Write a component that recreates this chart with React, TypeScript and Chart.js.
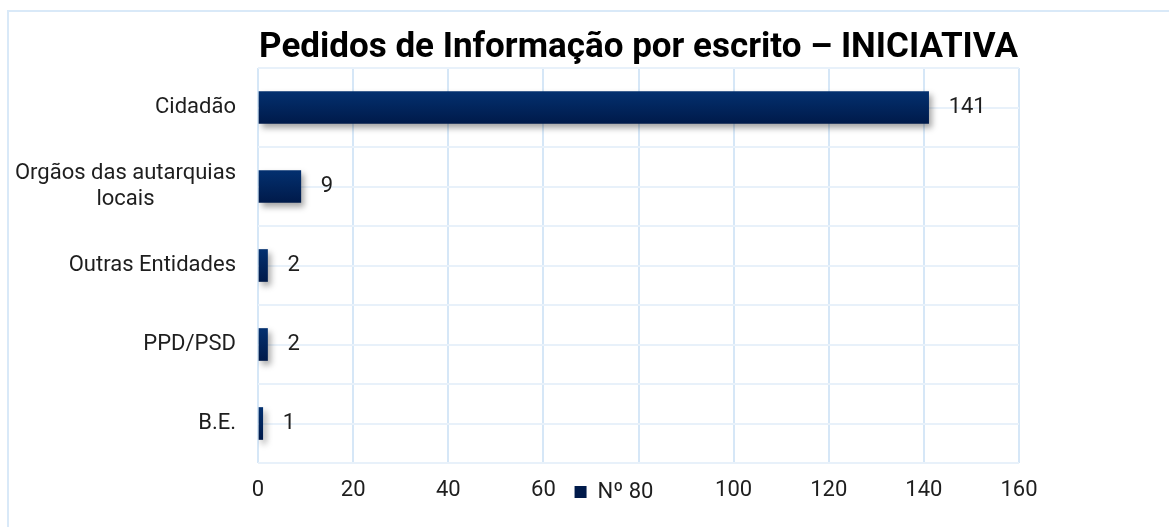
import React, { useEffect, useRef } from 'react';
import { Chart, registerables } from 'chart.js';

Chart.register(...registerables);

const titleText = 'Pedidos de Informação por escrito – INICIATIVA';
const categories: string[][] = [
  ['Cidadão'],
  ['Orgãos das autarquias', 'locais'],
  ['Outras Entidades'],
  ['PPD/PSD'],
  ['B.E.'],
];
const values: number[] = [141, 9, 2, 2, 1];
const seriesLabel = 'Nº 80';
const xMin = 0;
const xMax = 160;
const xStep = 20;

const FONT = 'Roboto';
const TEXT = '#1e1e1e';

const shadowPlugin = {
  id: 'barShadow',
  beforeDatasetDraw(chart: any) {
    const c = chart.ctx;
    c.save();
    c.shadowColor = 'rgba(0,0,0,0.35)';
    c.shadowBlur = 6;
    c.shadowOffsetX = 3;
    c.shadowOffsetY = 4;
  },
  afterDatasetDraw(chart: any) {
    chart.ctx.restore();
  },
};

// let the x tick labels share the row with the legend (labels are clipped to the scale box)
const xLabelRoomPlugin = {
  id: 'xLabelRoom',
  afterLayout(chart: any) {
    if (chart.scales.x) chart.scales.x.bottom = chart.height;
  },
};

const valueLabelPlugin = {
  id: 'valueLabels',
  afterDatasetsDraw(chart: any) {
    const c = chart.ctx;
    const meta = chart.getDatasetMeta(0);
    const data = chart.data.datasets[0].data;
    c.save();
    c.font = `22px ${FONT}`;
    c.fillStyle = TEXT;
    c.textAlign = 'left';
    c.textBaseline = 'middle';
    meta.data.forEach((bar: any, i: number) => {
      c.fillText(String(data[i]), bar.x + 20, bar.y);
    });
    c.restore();
  },
};

const yLabelPlugin = {
  id: 'yLabels',
  afterDraw(chart: any) {
    const c = chart.ctx;
    const scale = chart.scales.y;
    const labels = chart.data.labels as string[][];
    const lh = 26.4;
    const right = chart.chartArea.left - 22;
    c.save();
    c.font = `22px ${FONT}`;
    c.fillStyle = TEXT;
    c.textAlign = 'center';
    c.textBaseline = 'middle';
    labels.forEach((lines, i) => {
      const y = scale.getPixelForValue(i);
      const widest = Math.max(...lines.map((l) => c.measureText(l).width));
      const cx = right - widest / 2;
      lines.forEach((line, j) => {
        c.fillText(line, cx, y + (j - (lines.length - 1) / 2) * lh);
      });
    });
    c.restore();
  },
};

// x tick labels that sit under the legend item are hidden by it (as in the original)
const xTickColor = (ctx: any) => {
  const chart = ctx.chart;
  const lg = chart.legend;
  const sc = chart.scales && chart.scales.x;
  if (!lg || !sc || !lg.legendHitBoxes || !ctx.tick) return TEXT;
  const px = sc.getPixelForValue(ctx.tick.value);
  const hidden = lg.legendHitBoxes.some(
    (b: any) => px > b.left - 14 && px < b.left + b.width + 14
  );
  return hidden ? 'rgba(0,0,0,0)' : TEXT;
};

export default function App() {
  const ref = useRef<HTMLCanvasElement | null>(null);

  useEffect(() => {
    if (!ref.current) return;
    const chart = new Chart(ref.current, {
      type: 'bar',
      data: {
        labels: categories,
        datasets: [
          {
            label: seriesLabel,
            data: values,
            barThickness: 32,
            borderWidth: 0,
            backgroundColor: (ctx: any) => {
              const ch = ctx.chart;
              const sc = ch.scales && ch.scales.y;
              if (!sc || ctx.dataIndex === undefined) return '#012a66';
              const y = sc.getPixelForValue(ctx.dataIndex);
              if (!Number.isFinite(y)) return '#012a66';
              const g = ch.ctx.createLinearGradient(0, y - 16, 0, y + 16);
              g.addColorStop(0, '#03306f');
              g.addColorStop(1, '#001a4a');
              return g;
            },
          },
        ],
      },
      options: {
        indexAxis: 'y',
        responsive: false,
        animation: false,
        events: [],
        layout: { padding: { left: 209, right: 150, top: 0, bottom: 14 } },
        scales: {
          x: {
            type: 'linear',
            min: xMin,
            max: xMax,
            ticks: { stepSize: xStep, padding: 14, color: xTickColor, font: { size: 22, family: FONT } },
            grid: { color: '#d6e7f7', lineWidth: 2, drawTicks: false },
            border: { display: false },
            afterFit(s: any) {
              s.height = 8;
            },
          },
          y: {
            type: 'category',
            position: 'left',
            offset: true,
            grid: { offset: true, color: '#e8f1fa', lineWidth: 2, drawTicks: false },
            border: { display: false },
            ticks: { display: false },
            afterFit(s: any) {
              s.width = 49;
            },
          },
          y2: {
            type: 'category',
            position: 'left',
            labels: categories as any,
            offset: true,
            grid: { offset: false, color: '#e8f1fa', lineWidth: 2, drawTicks: false },
            border: { display: false },
            ticks: { display: false },
            afterFit(s: any) {
              s.width = 0;
            },
          },
        },
        plugins: {
          title: {
            display: true,
            text: titleText,
            fullSize: false,
            color: '#000',
            font: { size: 35, weight: 'bold', family: FONT, lineHeight: 1.1 },
            padding: { top: 29, bottom: 0.5 },
          },
          legend: {
            position: 'bottom',
            fullSize: true,
            labels: {
              boxWidth: 12,
              boxHeight: 12,
              padding: 10,
              color: TEXT,
              font: { size: 22, family: FONT },
            },
          },
          tooltip: { enabled: false },
        },
      } as any,
      plugins: [shadowPlugin, xLabelRoomPlugin, valueLabelPlugin, yLabelPlugin],
    });
    return () => chart.destroy();
  }, []);

  return (
    <div style={{ position: 'fixed', inset: 0, overflow: 'hidden', background: '#fff' }}>
      <div
        style={{
          position: 'absolute',
          left: 7,
          top: 10,
          width: 1220,
          height: 600,
          border: '2px solid #d9e9f8',
          boxSizing: 'border-box',
        }}
      />
      <div style={{ position: 'absolute', left: 0, top: 0, width: 1169, height: 527 }}>
        <canvas ref={ref} width={1169} height={527} />
      </div>
    </div>
  );
}
